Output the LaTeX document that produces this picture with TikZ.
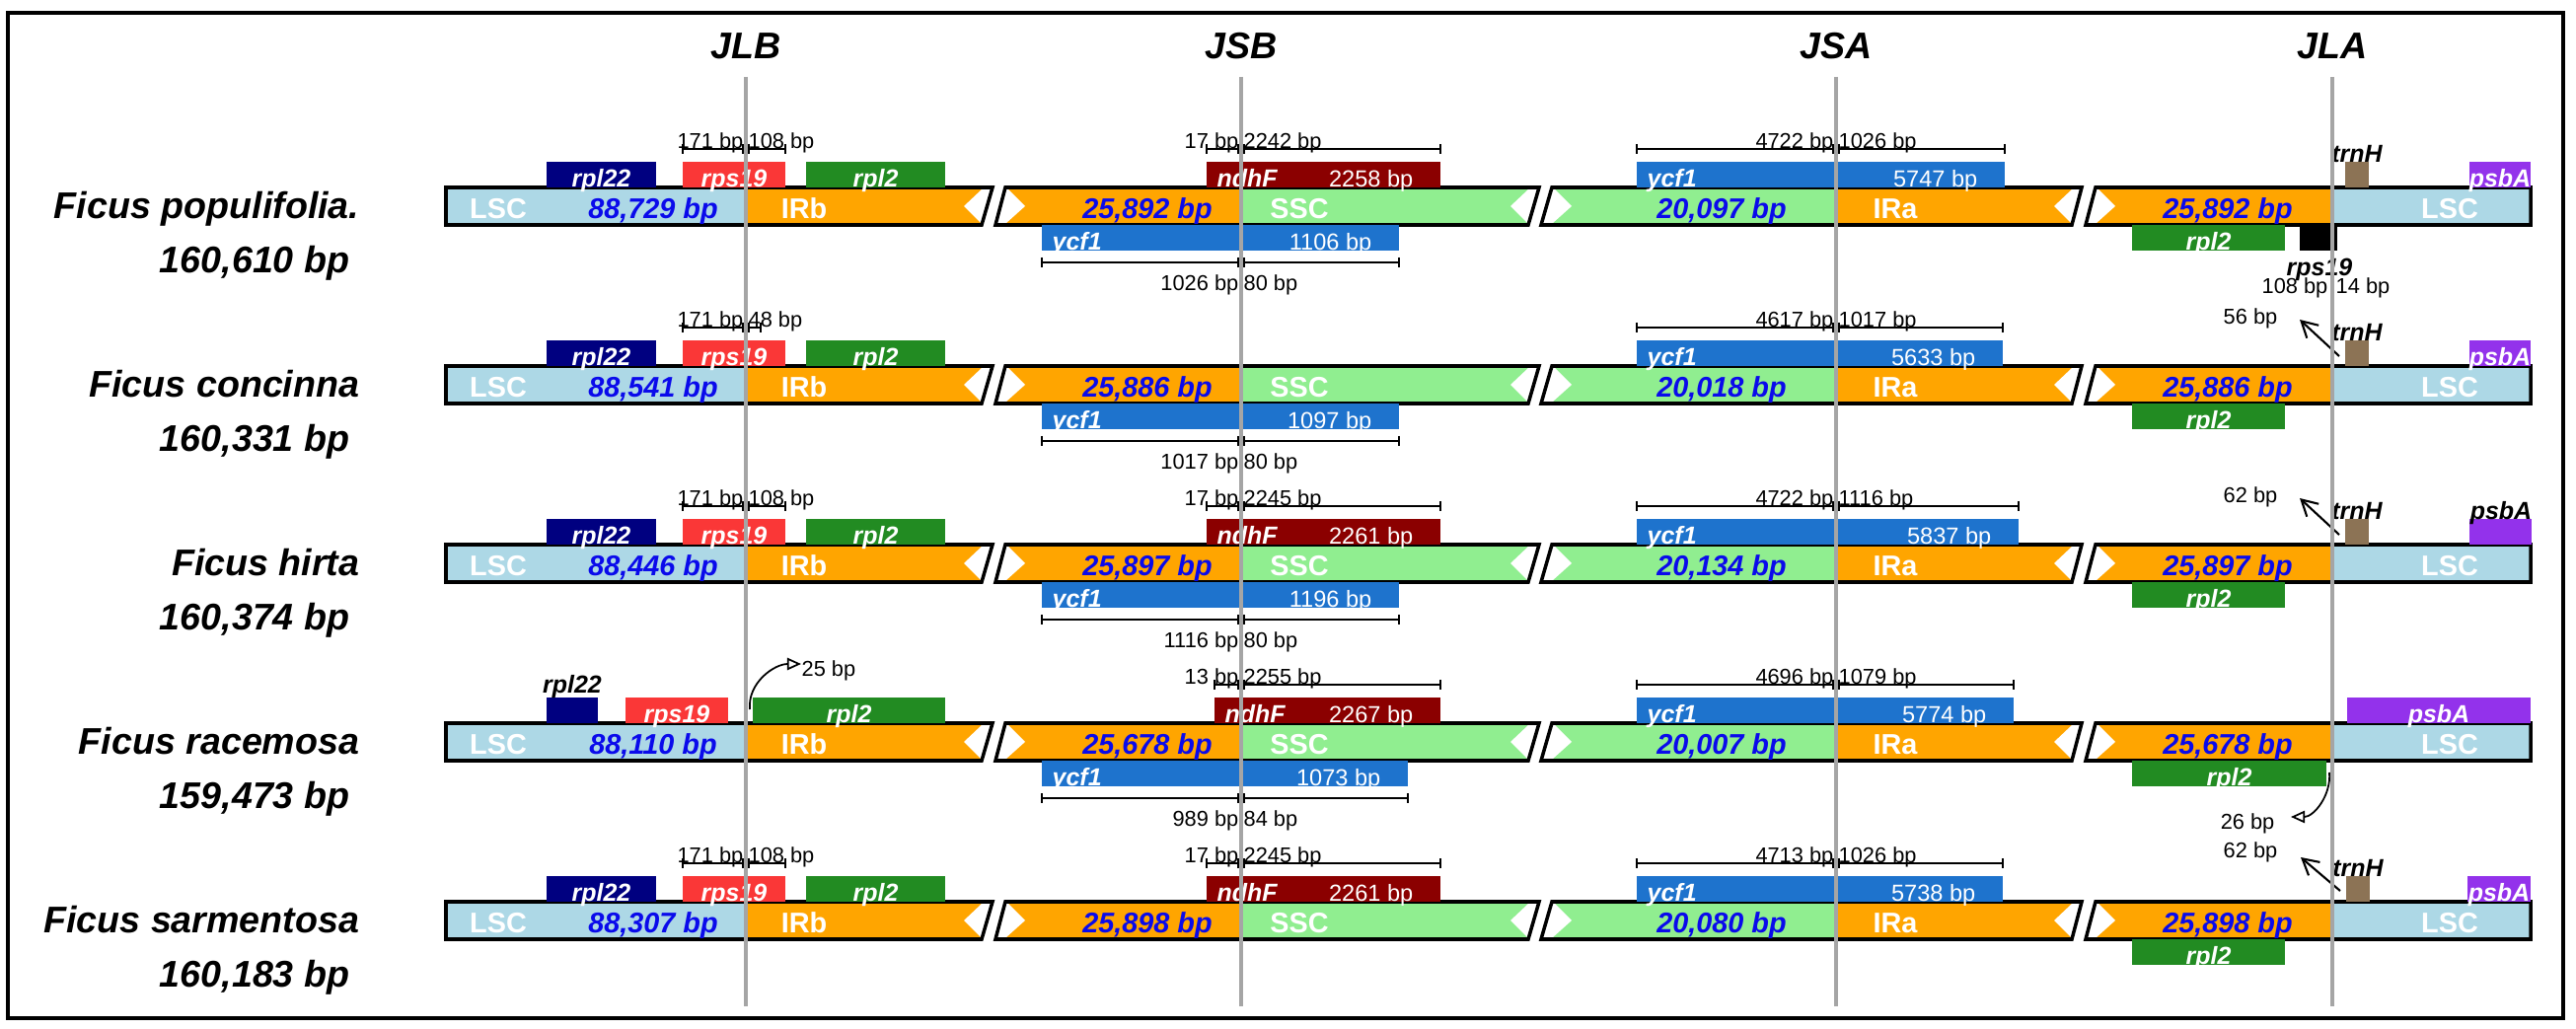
\documentclass[tikz,border=0pt]{standalone}
\usepackage{fontspec}
\setmainfont{Liberation Sans}
\usetikzlibrary{arrows.meta}
\definecolor{lscblue}{RGB}{173, 216, 230}
\definecolor{irorange}{RGB}{255, 165, 0}
\definecolor{sscgreen}{RGB}{144, 238, 144}
\definecolor{sizeblue}{RGB}{10, 10, 235}
\definecolor{rplnavy}{RGB}{0, 0, 128}
\definecolor{rpsred}{RGB}{250, 55, 55}
\definecolor{rplgreen}{RGB}{34, 139, 34}
\definecolor{ndhred}{RGB}{139, 0, 0}
\definecolor{ycfblue}{RGB}{30, 115, 205}
\definecolor{trnbrown}{RGB}{140, 115, 85}
\definecolor{psbpurple}{RGB}{147, 50, 235}
\definecolor{junctiongray}{RGB}{165, 165, 165}

\tikzset{
  spname/.style   ={font=\fontsize{10.7}{12}\selectfont\bfseries\itshape, inner sep=0pt, text height=0.72em, text depth=0pt},
  segname/.style  ={text=white, font=\fontsize{8.2}{9}\selectfont\bfseries, inner sep=0pt, text height=0.72em, text depth=0pt},
  segsize/.style  ={segname, text=sizeblue, font=\fontsize{8.2}{9}\selectfont\bfseries\itshape},
  genename/.style ={text=white, font=\fontsize{7.1}{8}\selectfont\bfseries\itshape, inner sep=0pt, text height=0.72em, text depth=0pt},
  outlabel/.style ={genename, text=black},
  genesize/.style ={text=white, font=\fontsize{6.7}{8}\selectfont, inner sep=0pt, text height=0.72em, text depth=0pt},
  spanlbl/.style  ={font=\fontsize{6.2}{7}\selectfont, inner sep=0pt, text height=0.72em, text depth=0pt},
  spanline/.style ={line width=0.45pt},
  barline/.style  ={line width=1pt},
  junction/.style ={draw=junctiongray, line width=1.1pt},
  distarrow/.style={-{Straight Barb[length=4.5pt,width=5pt]}, line width=0.6pt},
  curvearrow/.style={-{Triangle[open,length=4pt,width=3.5pt]}, line width=0.5pt}
}

\newcommand{\genomebar}[4]{%
  \fill[lscblue]  ( 452,-19) rectangle ( 756, 19);
  \fill[irorange] ( 756,-19) -- (1006,-19) -- ( 995, 19) -- ( 756, 19) -- cycle;
  \fill[irorange] (1019,-19) -- (1258,-19) -- (1258, 19) -- (1009, 19) -- cycle;
  \fill[sscgreen] (1258,-19) -- (1560,-19) -- (1549, 19) -- (1258, 19) -- cycle;
  \fill[sscgreen] (1573,-19) -- (1861,-19) -- (1861, 19) -- (1562, 19) -- cycle;
  \fill[irorange] (1861,-19) -- (2110,-19) -- (2100, 19) -- (1861, 19) -- cycle;
  \fill[irorange] (2124,-19) -- (2364,-19) -- (2364, 19) -- (2114, 19) -- cycle;
  \fill[lscblue]  (2364,-19) rectangle (2565, 19);
  \fill[white]    ( 977,  0) -- ( 995,-17) -- (1006,-19) -- ( 995, 19) -- ( 994, 17) -- cycle;
  \fill[white]    (1019,-19) -- (1022,-17) -- (1039,  0) -- (1020, 17) -- (1009, 19) -- cycle;
  \fill[white]    (1531,  0) -- (1549,-17) -- (1560,-19) -- (1549, 19) -- (1548, 17) -- cycle;
  \fill[white]    (1573,-19) -- (1576,-17) -- (1593,  0) -- (1574, 17) -- (1562, 19) -- cycle;
  \fill[white]    (2082,  0) -- (2100,-17) -- (2110,-19) -- (2100, 19) -- (2099, 17) -- cycle;
  \fill[white]    (2124,-19) -- (2127,-17) -- (2144,  0) -- (2125, 17) -- (2114, 19) -- cycle;
  \draw[barline]  ( 452,-19) -- (1006,-19) -- ( 995, 19) -- ( 452, 19) -- cycle;
  \draw[barline]  (1019,-19) -- (1560,-19) -- (1549, 19) -- (1009, 19) -- cycle;
  \draw[barline]  (1573,-19) -- (2110,-19) -- (2100, 19) -- (1562, 19) -- cycle;
  \draw[barline]  (2124,-19) -- (2565,-19) -- (2565, 19) -- (2114, 19) -- cycle;
  \node[segname] (#1lsca)    at ( 505,0) {LSC};
  \node[segsize] (#1lscsize) at ( 662,0) {#2};
  \node[segname] (#1irb)     at ( 815,0) {IRb};
  \node[segsize] (#1irbsize) at (1163,0) {#3};
  \node[segname] (#1ssc)     at (1317,0) {SSC};
  \node[segsize] (#1sscsize) at (1745,0) {#4};
  \node[segname] (#1ira)     at (1921,0) {IRa};
  \node[segsize] (#1irasize) at (2258,0) {#3};
  \node[segname] (#1lscb)    at (2483,0) {LSC};}

\newcommand{\gene}[6]{%
  \fill[#2] (#3,#5) rectangle (#4,{#5+26});
  \node[genename] (#1) at ({(#3+#4)/2},{#5+13}) {#6};}

\newcommand{\longgene}[7]{%
  \fill[#2] (#3,#5) rectangle (#4,{#5+26});
  \node[genename, anchor=west] (#1)     at ({#3+10},{#5+13}) {#6};
  \node[genesize, anchor=east] (#1size) at ({#4-27},{#5+13}) {#7};}

\newcommand{\bpspan}[8]{%
  \draw[spanline] (#2,#5) -- ({#3-3},#5);
  \draw[spanline] ({#3+3},#5) -- (#4,#5);
  \draw[spanline] (#2,{#5-5}) -- (#2,{#5+5});
  \draw[spanline] ({#3-3},{#5-5}) -- ({#3-3},{#5+5});
  \draw[spanline] ({#3+3},{#5-5}) -- ({#3+3},{#5+5});
  \draw[spanline] (#4,{#5-5}) -- (#4,{#5+5});
  \node[spanlbl, anchor=east] (#1l) at ({#3-2},#6) {#7};
  \node[spanlbl, anchor=west] (#1r) at ({#3+2},#6) {#8};}

\begin{document}
\begin{tikzpicture}[x=0.01cm, y=-0.01cm]
\useasboundingbox (0,0) rectangle (2611,1043);
\fill[white] (0,0) rectangle (2611,1043);
\draw[line width=1.1pt] (8,13) rectangle (2598,1032);

\node[spname] (jlb) at ( 756,47) {JLB};
\node[spname] (jsb) at (1258,47) {JSB};
\node[spname] (jsa) at (1861,47) {JSA};
\node[spname] (jla) at (2364,47) {JLA};

\begin{scope}[shift={(0,209)}]
  \node[spname, anchor=east] (popname) at (365, 0) {Ficus populifolia.};
  \node[spname, anchor=east] (popsize) at (355,55) {160,610 bp};
  \genomebar{pop}{88,729 bp}{25,892 bp}{20,097 bp}
  \gene{poprpl22}{rplnavy}{554}{665}{-45}{rpl22}
  \gene{poprps19}{rpsred}{692}{796}{-45}{rps19}
  \gene{poprpl2a}{rplgreen}{817}{958}{-45}{rpl2}
  \longgene{popndhF}{ndhred}{1223}{1460}{-45}{ndhF}{2258 bp}
  \longgene{popycf1a}{ycfblue}{1659}{2032}{-45}{ycf1}{5747 bp}
  \fill[trnbrown] (2377,-45) rectangle (2401,-19);
  \node[outlabel] (poptrnH) at (2389,-57) {trnH};
  \gene{poppsbA}{psbpurple}{2503}{2565}{-45}{psbA}
  \bpspan{poprps}{692}{756}{796}{-58}{-71}{171 bp}{108 bp}
  \bpspan{popndh}{1223}{1258}{1460}{-58}{-71}{17 bp}{2242 bp}
  \bpspan{popycfa}{1659}{1861}{2032}{-58}{-71}{4722 bp}{1026 bp}
  \longgene{popycf1b}{ycfblue}{1056}{1418}{19}{ycf1}{1106 bp}
  \bpspan{popycfb}{1056}{1258}{1418}{57}{73}{1026 bp}{80 bp}
  \gene{poprpl2b}{rplgreen}{2161}{2316}{19}{rpl2}
  \fill[black] (2331,19) rectangle (2369,45);
  \node[outlabel] (poprps19b) at (2351,58) {rps19};
  \node[spanlbl, anchor=east] (poprpsl) at (2360,76) {108 bp};
  \node[spanlbl, anchor=west] (poprpsr) at (2367,76) {14 bp};
\end{scope}

\begin{scope}[shift={(0,390)}]
  \node[spname, anchor=east] (conname) at (365, 0) {Ficus concinna};
  \node[spname, anchor=east] (consize) at (355,55) {160,331 bp};
  \genomebar{con}{88,541 bp}{25,886 bp}{20,018 bp}
  \gene{conrpl22}{rplnavy}{554}{665}{-45}{rpl22}
  \gene{conrps19}{rpsred}{692}{796}{-45}{rps19}
  \gene{conrpl2a}{rplgreen}{817}{958}{-45}{rpl2}
  \longgene{conycf1a}{ycfblue}{1659}{2030}{-45}{ycf1}{5633 bp}
  \fill[trnbrown] (2377,-45) rectangle (2401,-19);
  \node[outlabel] (contrnH) at (2389,-57) {trnH};
  \gene{conpsbA}{psbpurple}{2503}{2565}{-45}{psbA}
  \bpspan{conrps}{692}{756}{771}{-58}{-71}{171 bp}{48 bp}
  \bpspan{conycfa}{1659}{1861}{2030}{-58}{-71}{4617 bp}{1017 bp}
  \node[spanlbl] (condist) at (2281,-74) {56 bp};
  \coordinate (conjla) at (2371,-29);
  \coordinate (contip) at (2331,-66);
  \draw[distarrow] (conjla) -- (contip);
  \longgene{conycf1b}{ycfblue}{1056}{1418}{19}{ycf1}{1097 bp}
  \bpspan{conycfb}{1056}{1258}{1418}{57}{73}{1017 bp}{80 bp}
  \gene{conrpl2b}{rplgreen}{2161}{2316}{19}{rpl2}
\end{scope}

\begin{scope}[shift={(0,571)}]
  \node[spname, anchor=east] (hirname) at (365, 0) {Ficus hirta};
  \node[spname, anchor=east] (hirsize) at (355,55) {160,374 bp};
  \genomebar{hir}{88,446 bp}{25,897 bp}{20,134 bp}
  \gene{hirrpl22}{rplnavy}{554}{665}{-45}{rpl22}
  \gene{hirrps19}{rpsred}{692}{796}{-45}{rps19}
  \gene{hirrpl2a}{rplgreen}{817}{958}{-45}{rpl2}
  \longgene{hirndhF}{ndhred}{1223}{1460}{-45}{ndhF}{2261 bp}
  \longgene{hirycf1a}{ycfblue}{1659}{2046}{-45}{ycf1}{5837 bp}
  \fill[trnbrown] (2377,-45) rectangle (2401,-19);
  \node[outlabel] (hirtrnH) at (2389,-57) {trnH};
  \fill[psbpurple] (2503,-45) rectangle (2566,-19);
  \node[outlabel] (hirpsbA) at (2535,-57) {psbA};
  \bpspan{hirrps}{692}{756}{796}{-58}{-71}{171 bp}{108 bp}
  \bpspan{hirndh}{1223}{1258}{1460}{-58}{-71}{17 bp}{2245 bp}
  \bpspan{hirycfa}{1659}{1861}{2046}{-58}{-71}{4722 bp}{1116 bp}
  \node[spanlbl] (hirdist) at (2281,-74) {62 bp};
  \coordinate (hirjla) at (2371,-29);
  \coordinate (hirtip) at (2331,-66);
  \draw[distarrow] (hirjla) -- (hirtip);
  \longgene{hirycf1b}{ycfblue}{1056}{1418}{19}{ycf1}{1196 bp}
  \bpspan{hirycfb}{1056}{1258}{1418}{57}{73}{1116 bp}{80 bp}
  \gene{hirrpl2b}{rplgreen}{2161}{2316}{19}{rpl2}
\end{scope}

\begin{scope}[shift={(0,752)}]
  \node[spname, anchor=east] (racname) at (365, 0) {Ficus racemosa};
  \node[spname, anchor=east] (racsize) at (355,55) {159,473 bp};
  \genomebar{rac}{88,110 bp}{25,678 bp}{20,007 bp}
  \fill[rplnavy] (554,-45) rectangle (606,-19);
  \node[outlabel] (racrpl22) at (580,-62) {rpl22};
  \gene{racrps19}{rpsred}{634}{738}{-45}{rps19}
  \gene{racrpl2a}{rplgreen}{763}{958}{-45}{rpl2}
  \longgene{racndhF}{ndhred}{1231}{1460}{-45}{ndhF}{2267 bp}
  \longgene{racycf1a}{ycfblue}{1659}{2041}{-45}{ycf1}{5774 bp}
  \gene{racpsbA}{psbpurple}{2379}{2565}{-45}{psbA}
  \node[spanlbl, anchor=west] (racdista) at (812,-79) {25 bp};
  \coordinate (racjlb) at (760,-33);
  \draw[curvearrow] (racjlb) to[out=95, in=180] (racdista.west);
  \bpspan{racndh}{1231}{1258}{1460}{-58}{-71}{13 bp}{2255 bp}
  \bpspan{racycfa}{1659}{1861}{2041}{-58}{-71}{4696 bp}{1079 bp}
  \longgene{racycf1b}{ycfblue}{1056}{1427}{19}{ycf1}{1073 bp}
  \bpspan{racycfb}{1056}{1258}{1427}{57}{73}{989 bp}{84 bp}
  \gene{racrpl2b}{rplgreen}{2161}{2358}{19}{rpl2}
  \node[spanlbl, anchor=east] (racdistb) at (2306,76) {26 bp};
  \coordinate (racjla) at (2361,31);
  \coordinate (racdistbend) at (2322,76);
  \draw[curvearrow] (racjla) to[out=-85, in=0] (racdistbend);
\end{scope}

\begin{scope}[shift={(0,933)}]
  \node[spname, anchor=east] (sarname) at (365, 0) {Ficus sarmentosa};
  \node[spname, anchor=east] (sarsize) at (355,55) {160,183 bp};
  \genomebar{sar}{88,307 bp}{25,898 bp}{20,080 bp}
  \gene{sarrpl22}{rplnavy}{554}{665}{-45}{rpl22}
  \gene{sarrps19}{rpsred}{692}{796}{-45}{rps19}
  \gene{sarrpl2a}{rplgreen}{817}{958}{-45}{rpl2}
  \longgene{sarndhF}{ndhred}{1223}{1460}{-45}{ndhF}{2261 bp}
  \longgene{sarycf1a}{ycfblue}{1659}{2030}{-45}{ycf1}{5738 bp}
  \fill[trnbrown] (2378,-45) rectangle (2402,-19);
  \node[outlabel] (sartrnH) at (2390,-57) {trnH};
  \gene{sarpsbA}{psbpurple}{2501}{2565}{-45}{psbA}
  \bpspan{sarrps}{692}{756}{796}{-58}{-71}{171 bp}{108 bp}
  \bpspan{sarndh}{1223}{1258}{1460}{-58}{-71}{17 bp}{2245 bp}
  \bpspan{sarycfa}{1659}{1861}{2030}{-58}{-71}{4713 bp}{1026 bp}
  \node[spanlbl] (sardist) at (2281,-76) {62 bp};
  \coordinate (sarjla) at (2372,-30);
  \coordinate (sartip) at (2332,-64);
  \draw[distarrow] (sarjla) -- (sartip);
  \gene{sarrpl2b}{rplgreen}{2161}{2316}{19}{rpl2}
\end{scope}

\draw[junction] ( 756,78) -- ( 756,1020);
\draw[junction] (1258,78) -- (1258,1020);
\draw[junction] (1861,78) -- (1861,1020);
\draw[junction] (2364,78) -- (2364,1020);
\end{tikzpicture}
\end{document}
